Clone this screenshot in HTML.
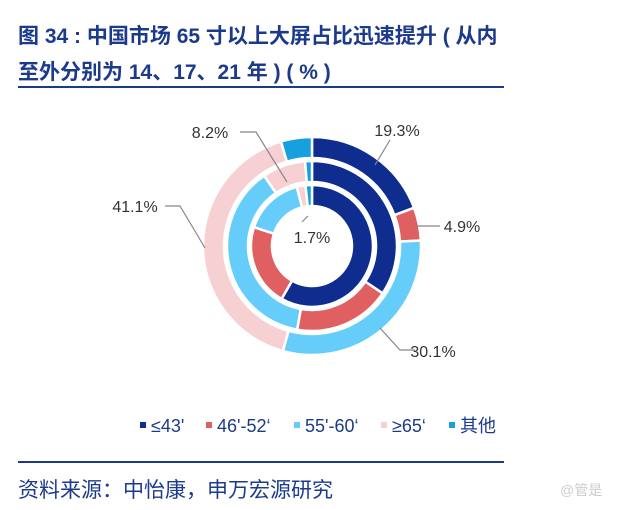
<!DOCTYPE html>
<html><head><meta charset="utf-8"><style>
body{margin:0;background:#fff;width:640px;height:510px;overflow:hidden;font-family:"Liberation Sans","Noto Sans CJK SC",sans-serif}
.t{position:absolute;left:18px;color:#1c3a8c;font-weight:bold;font-size:21px;white-space:nowrap}
.hr{position:absolute;left:18px;width:486px;height:2px;background:#1c3a8c}
</style></head><body>
<div class="t" style="top:20px">图 34 : 中国市场 65 寸以上大屏占比迅速提升 ( 从内</div>
<div class="t" style="top:56px">至外分别为 14、17、21 年 ) ( % )</div>
<div class="hr" style="top:86px"></div>
<svg id="c" width="640" height="510" style="position:absolute;left:0;top:0"></svg>
<div class="hr" style="top:461px"></div>
<div style="position:absolute;left:18px;top:474px;font-size:21px;color:#1c3a8c">资料来源：中怡康，申万宏源研究</div>
<div style="position:absolute;left:560px;top:480px;font-size:14px;color:#ccc">@管是</div>
<script>
const categories=["≤43'","46'-52‘","55'-60‘","≥65‘","其他"];
const colors=["#0e2d8e","#e06062","#66cdfb","#f7d0d3","#16a0de"];
const years=["14","17","21"];
const values14=[58.3,21.7,16.0,2.3,1.7];
const values17=[34.4,18.4,37.7,8.2,1.3];
const values21=[19.3,4.9,30.1,41.1,4.6];
const labels=[["19.3%",397,130],["4.9%",462,226],["30.1%",433,351],["41.1%",135,206],["8.2%",210,132],["1.7%",312,237]];
const svg=document.getElementById('c');const NS="http://www.w3.org/2000/svg";
const cx=312,cy=246;
const rings=[[values14,40,61],[values17,64,85],[values21,88,109]];
function pt(r,p){const a=p/100*2*Math.PI;return [cx+r*Math.sin(a),cy-r*Math.cos(a)];}
rings.forEach((rg,ri)=>{const vals=rg[0],r0=rg[1],r1=rg[2];const tot=vals.reduce((a,b)=>a+b,0);let acc=0;
vals.forEach((v,i)=>{const s=acc/tot*100,e=(acc+v)/tot*100;acc+=v;const lg=(e-s)>50?1:0;
const a=pt(r1,s),b=pt(r1,e),c=pt(r0,e),d=pt(r0,s);
const p=document.createElementNS(NS,'path');
p.setAttribute('d',`M${a}A${r1},${r1} 0 ${lg} 1 ${b}L${c}A${r0},${r0} 0 ${lg} 0 ${d}Z`);
p.setAttribute('fill',colors[i]);p.setAttribute('stroke','#fff');p.setAttribute('stroke-width','2.5');


svg.appendChild(p);});});
const leaders=[[375,165,390,140],[415,226,440,226],[380,328,400,350,415,350],[205,248,180,206,165,206],[287,182,256,132,240,132],[308,216,302,222]];
leaders.forEach((l,i)=>{const pl=document.createElementNS(NS,'polyline');pl.setAttribute('points',l.join(' '));pl.setAttribute('fill','none');pl.setAttribute('stroke','#888');pl.setAttribute('stroke-width','1.2');


svg.appendChild(pl);});
labels.forEach(l=>{const t=document.createElementNS(NS,'text');t.setAttribute('x',l[1]);t.setAttribute('y',l[2]+6);t.setAttribute('text-anchor','middle');t.setAttribute('font-size','16');t.setAttribute('fill','#333');t.textContent=l[0];


svg.appendChild(t);});
const lx=[140,206,294,381,449];
categories.forEach((c,i)=>{const r=document.createElementNS(NS,'rect');r.setAttribute('x',lx[i]);r.setAttribute('y',422);r.setAttribute('width',6);r.setAttribute('height',6);r.setAttribute('fill',colors[i]);


svg.appendChild(r);
const t=document.createElementNS(NS,'text');t.setAttribute('x',lx[i]+11);t.setAttribute('y',432);t.setAttribute('font-size','18');t.setAttribute('fill','#1c3a8c');t.textContent=c;


svg.appendChild(t);});
</script>
</body></html>
